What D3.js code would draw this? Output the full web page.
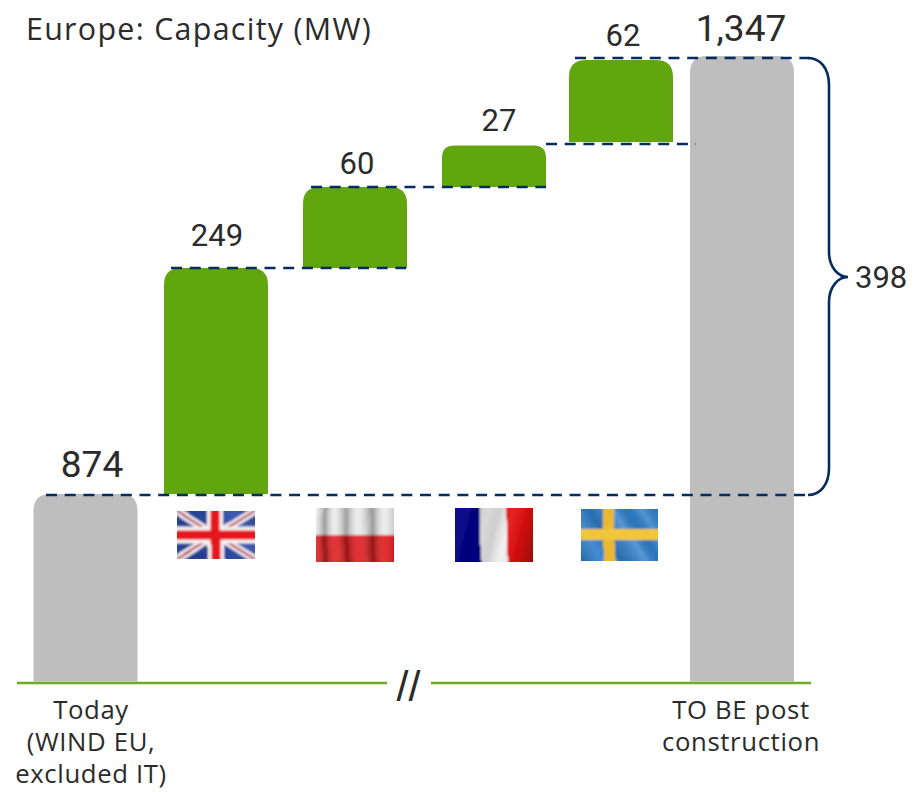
<!DOCTYPE html>
<html><head><meta charset="utf-8">
<script src="https://cdn.jsdelivr.net/npm/d3@7/dist/d3.min.js"></script>
<style>html,body{margin:0;background:#fff}svg{display:block}text{font-family:Roboto,sans-serif;fill:#2b2b2b}.w{font-family:"Open Sans",sans-serif}</style>
</head><body><svg id="c" width="922" height="792"></svg>
<script>
const categories = ["Today","UK","Poland","France","Sweden","To be"];
const startValues = [0,874,1123,1183,1210,0];
const endValues = [874,1123,1183,1210,1272,1347];
const valueLabels = ["874","249","60","27","62","1,347"];
const barKinds = ["total","step","step","step","step","total"];
const axisLabels = [["Today","(WIND EU,","excluded IT)"],[],[],[],[],["TO BE post","construction"]];
const bracketValue = "398";
const chartTitle = "Europe: Capacity (MW)";

const svg=d3.select("#c");
// The source chart is not to scale (broken axis), hence a piecewise scale
const y=d3.scaleLinear().domain([0,874,1123,1183,1210,1272,1347]).range([681.5,494,268,187,145.5,60,56]);
const xc=d3.scaleOrdinal().domain(categories).range([85.5,216,355,494,621,742]);
const barW=104, navy="#052c60", green="#62a60f", grey="#bebebe", axisGreen="#6aae1e";
const barBottomGap=[0,0,0,0,3.5,0];

const defs=svg.append("defs");
const wf=defs.append("filter").attr("id","soft").attr("x","-10%").attr("y","-10%").attr("width","120%").attr("height","120%");
wf.append("feTurbulence").attr("type","fractalNoise").attr("baseFrequency","0.012 0.02").attr("numOctaves",1).attr("seed",4).attr("result","n");
wf.append("feDisplacementMap").attr("in","SourceGraphic").attr("in2","n").attr("scale",6).attr("xChannelSelector","R").attr("yChannelSelector","G").attr("result","d");
wf.append("feGaussianBlur").attr("in","d").attr("stdDeviation",0.8);

function topRounded(x0,x1,yt,yb,r){
  const p=d3.path();
  p.moveTo(x0,yb);p.lineTo(x0,yt+r);p.quadraticCurveTo(x0,yt,x0+r,yt);
  p.lineTo(x1-r,yt);p.quadraticCurveTo(x1,yt,x1,yt+r);p.lineTo(x1,yb);p.closePath();
  return p.toString();
}
svg.append("g").selectAll("path").data(categories).join("path")
  .attr("d",(c,i)=>{
    const yt=y(endValues[i]),yb=y(startValues[i])-barBottomGap[i];
    const r=Math.min(17,(yb-yt)*0.3);
    return topRounded(xc(c)-barW/2,xc(c)+barW/2,yt,yb,r);
  })
  .attr("fill",(c,i)=>barKinds[i]==="total"?grey:green);

const ax=svg.append("g").attr("stroke",axisGreen).attr("stroke-width",2.6);
ax.append("line").attr("x1",17).attr("x2",387).attr("y1",683).attr("y2",683);
ax.append("line").attr("x1",431).attr("x2",811).attr("y1",683).attr("y2",683);
svg.append("text").attr("x",408.5).attr("y",701).attr("text-anchor","middle").attr("font-size",43).style("font-family","Liberation Sans").text("//");

const connectors=[[874,46,809],[1123,171,406],[1183,311,546],[1210,546,696],[1272,575,809]];
const connectorNudge=[1,0,0,-1.5,-2];
svg.append("g").selectAll("line").data(connectors).join("line")
  .attr("x1",d=>d[1]).attr("x2",d=>d[2])
  .attr("y1",(d,i)=>y(d[0])+connectorNudge[i]).attr("y2",(d,i)=>y(d[0])+connectorNudge[i])
  .attr("stroke",navy).attr("stroke-width",2.6).attr("stroke-dasharray","11 7.7");

const yTop=y(1272)-2, yBot=y(874)+1, bx=829, yMid=277;
const brace=d3.path();
brace.moveTo(808,yTop);
brace.bezierCurveTo(820,yTop,bx,yTop+10,bx,yTop+27);
brace.lineTo(bx,yMid-25);
brace.bezierCurveTo(bx,yMid-10,838,yMid,848,yMid);
brace.bezierCurveTo(838,yMid,bx,yMid+10,bx,yMid+25);
brace.lineTo(bx,yBot-27);
brace.bezierCurveTo(bx,yBot-10,820,yBot,808,yBot);
svg.append("path").attr("d",brace.toString()).attr("fill","none").attr("stroke",navy).attr("stroke-width",2.6);
svg.append("text").attr("x",855).attr("y",288).attr("font-size",31).text(bracketValue);

const labelDx=[6.5,1,2,5,2,-1], labelDy=[17,22,13.5,15,14,15], labelSize=[37,31,31,31,31,37];
svg.append("g").selectAll("text").data(valueLabels).join("text")
  .attr("x",(d,i)=>xc(categories[i])+labelDx[i])
  .attr("y",(d,i)=>y(endValues[i])-labelDy[i])
  .attr("text-anchor","middle").attr("font-size",(d,i)=>labelSize[i]).text(d=>d);

const catG=svg.append("g");
axisLabels.forEach((ls,i)=>ls.forEach((t,j)=>{
  catG.append("text").attr("class","w").attr("x",xc(categories[i])+(i===0?5.5:-1)).attr("y",718.5+j*32.3)
    .attr("text-anchor","middle").attr("font-size",25.7).attr("letter-spacing",0.65).text(t);
}));

svg.append("text").attr("class","w").attr("x",26).attr("y",40).attr("font-size",30.4).attr("letter-spacing",1.3).text(chartTitle);

function hGrad(id,rot,stops){
  const g=defs.append("linearGradient").attr("id",id).attr("gradientTransform",`rotate(${rot} .5 .5)`);
  stops.forEach(s=>g.append("stop").attr("offset",s[0]).attr("stop-color",s[1]).attr("stop-opacity",s[2]));
}
hGrad("wavePL",0,[[0,"#000",.08],[.1,"#fff",.1],[.2,"#000",.36],[.3,"#fff",.10],[.42,"#000",.34],[.54,"#fff",.08],[.68,"#000",.36],[.8,"#fff",.08],[.92,"#000",.2],[1,"#fff",.1]]);
hGrad("waveFR",12,[[0,"#000",.08],[.15,"#000",.02],[.28,"#000",.15],[.38,"#000",.1],[.5,"#000",.14],[.62,"#fff",.1],[.8,"#000",.12],[.9,"#000",.25],[1,"#000",.45]]);
hGrad("waveSE",-25,[[0,"#000",.18],[.2,"#fff",.1],[.36,"#000",.14],[.6,"#fff",.2],[.72,"#000",.08],[.85,"#fff",.18],[1,"#000",.08]]);
hGrad("waveUK",-15,[[0,"#000",.05],[.25,"#000",.15],[.5,"#000",.05],[.75,"#fff",.08],[1,"#000",.2]]);

function flag(cat,dx,w,yt,h,draw){
  const id="clip"+cat;
  defs.append("clipPath").attr("id",id).append("rect").attr("x",0).attr("y",0).attr("width",w).attr("height",h);
  const g=svg.append("g").attr("transform",`translate(${xc(cat)+dx},${yt})`).attr("clip-path",`url(#${id})`);
  const inner=g.append("g").attr("filter","url(#soft)");
  draw(inner,w,h);
}
const R=(g,x,y,w,h,f)=>g.append("rect").attr("x",x).attr("y",y).attr("width",w).attr("height",h).attr("fill",f);
const pad=10;
flag("UK",-39,78,511,48,(g,w,h)=>{
  R(g,-pad,-pad,w+2*pad,h+2*pad,"#2a4aa8");
  R(g,-pad,-pad,w+2*pad,h+2*pad,"url(#waveUK)");
  const L=(x1,y1,x2,y2,c,sw)=>g.append("line").attr("x1",x1).attr("y1",y1).attr("x2",x2).attr("y2",y2).attr("stroke",c).attr("stroke-width",sw);
  [[-6,-4,w+6,h+4],[w+6,-4,-6,h+4]].forEach(a=>L(a[0],a[1],a[2],a[3],"#f4eeee",7.5));
  [[-6,-4,w+6,h+4],[w+6,-4,-6,h+4]].forEach(a=>L(a[0],a[1],a[2],a[3],"#b13a55",2.2));
  R(g,-pad,h/2-8.5,w+2*pad,17,"#f6f0f0");
  R(g,w/2-8,-pad,16,h+2*pad,"#f6f0f0");
  R(g,-pad,h/2-4.5,w+2*pad,9,"#e5121a");
  R(g,w/2-4.5,-pad,9,h+2*pad,"#e5121a");
});
flag("Poland",-39,78,508,54,(g,w,h)=>{
  R(g,-pad,-pad,w+2*pad,h/2+pad,"#ececec");
  R(g,-pad,h/2,w+2*pad,h/2+pad,"#e21c1e");
  R(g,-pad,-pad,w+2*pad,h+2*pad,"url(#wavePL)");
});
flag("France",-39,78,508,54,(g,w,h)=>{
  R(g,-pad,-pad,w/3+pad,h+2*pad,"#07078f");
  R(g,w/3,-pad,w/3,h+2*pad,"#f0f0f0");
  R(g,2*w/3,-pad,w/3+pad,h+2*pad,"#e60a0a");
  R(g,-pad,-pad,w+2*pad,h+2*pad,"url(#waveFR)");
});
flag("Sweden",-40,77,509,52,(g,w,h)=>{
  R(g,-pad,-pad,w+2*pad,h+2*pad,"#2f7fcb");
  R(g,-pad,-pad,w+2*pad,h+2*pad,"url(#waveSE)");
  R(g,23,-pad,11,h+2*pad,"#e8b92e");
  R(g,-pad,20,w+2*pad,11,"#f0c63a");
});
</script></body></html>
